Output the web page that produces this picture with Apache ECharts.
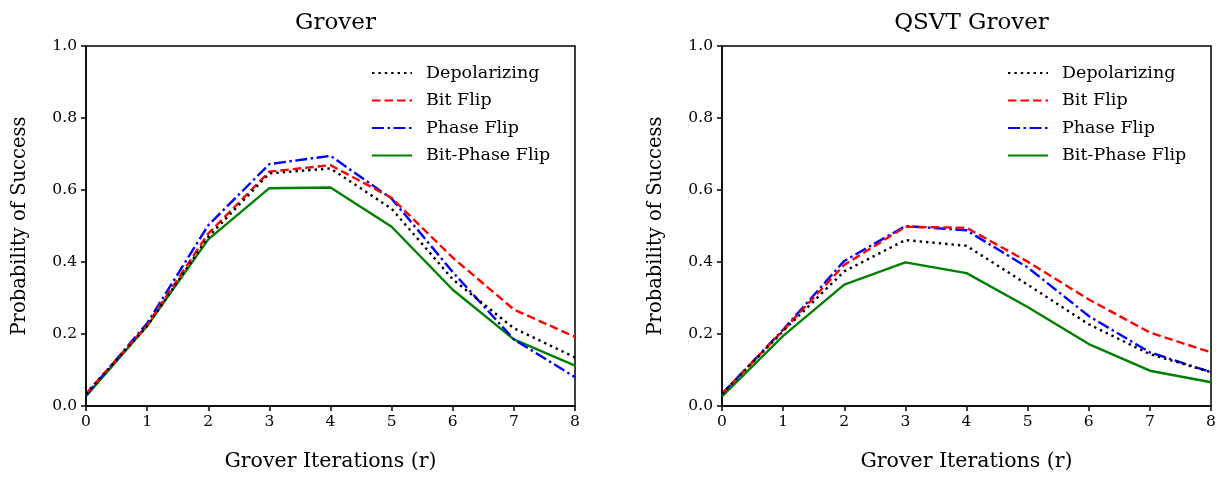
<!DOCTYPE html>
<html><head><meta charset="utf-8">
<script src="https://cdn.jsdelivr.net/npm/echarts@6/dist/echarts.min.js"></script>
<style>html,body{margin:0;padding:0;background:#fff}#c{width:1232px;height:477px}</style>
</head><body><div id="c"></div>
<script>
const iterations = [0,1,2,3,4,5,6,7,8];
const seriesNames = ['Depolarizing','Bit Flip','Phase Flip','Bit-Phase Flip'];
const titles = ['Grover','QSVT Grover'];
const xTicks = ['0','1','2','3','4','5','6','7','8'];
const yTicks = ['0.0','0.2','0.4','0.6','0.8','1.0'];

// Left: Grover
const groverDepolarizing = [0.034,0.222,0.470,0.646,0.660,0.548,0.352,0.216,0.135];
const groverBitFlip      = [0.034,0.225,0.479,0.651,0.669,0.578,0.412,0.268,0.192];
const groverPhaseFlip    = [0.030,0.230,0.502,0.672,0.695,0.576,0.372,0.185,0.080];
const groverBitPhaseFlip = [0.027,0.222,0.463,0.605,0.607,0.498,0.323,0.185,0.112];

// Right: QSVT Grover
const qsvtDepolarizing = [0.034,0.208,0.374,0.461,0.445,0.337,0.227,0.144,0.094];
const qsvtBitFlip      = [0.034,0.210,0.392,0.498,0.495,0.401,0.296,0.204,0.149];
const qsvtPhaseFlip    = [0.034,0.212,0.403,0.500,0.488,0.385,0.250,0.149,0.094];
const qsvtBitPhaseFlip = [0.027,0.195,0.337,0.399,0.369,0.275,0.172,0.098,0.066];

const styles = [
  {color:'#000000', type:[2.4,4]},
  {color:'#ff0000', type:[8.5,4]},
  {color:'#0000ff', type:[12,3.5,2.5,3.5]},
  {color:'#008000', type:'solid'}
];
const FONT = 'DejaVu Serif';
const grids = [{left:86, top:46, width:489, height:363},{left:722, top:46, width:489, height:363}];
const dataSets = [
  [groverDepolarizing,groverBitFlip,groverPhaseFlip,groverBitPhaseFlip],
  [qsvtDepolarizing,qsvtBitFlip,qsvtPhaseFlip,qsvtBitPhaseFlip]
];

const option = {
  animation:false,
  backgroundColor:'#fff',
  textStyle:{fontFamily:FONT},
  title: titles.map((t,i)=>({text:t, left:grids[i].left+grids[i].width/2, top:7, textAlign:'center',
    textStyle:{fontFamily:FONT, fontSize:23, fontWeight:'normal', color:'#000'}})),
  grid: grids.map(g=>Object.assign({show:true, borderColor:'#000', borderWidth:1.5, backgroundColor:'transparent'}, g)),
  legend: grids.map((g,i)=>({
    data: seriesNames.map(n=>n+'\u200b'.repeat(i)),
    orient:'vertical', left:g.left+280, top:59, itemWidth:40, itemHeight:14, itemGap:9.5,
    itemStyle:{opacity:0, color:'rgba(0,0,0,0)', borderWidth:0},
    textStyle:{fontFamily:FONT, fontSize:17.5, color:'#000', padding:[0,0,0,9]}
  })),
  xAxis: grids.map((g,i)=>({
    type:'value', gridIndex:i, min:0, max:8, interval:1,
    name:'Grover Iterations (r)', nameLocation:'middle', nameGap:45,
    nameTextStyle:{fontFamily:FONT, fontSize:20.5, color:'#000'},
    axisLine:{show:true, onZero:false, lineStyle:{color:'#000', width:1.5}},
    axisTick:{show:true, length:5, lineStyle:{color:'#000', width:1.5}},
    axisLabel:{fontFamily:FONT, fontSize:15.5, color:'#000', margin:8, formatter:v=>xTicks[v]},
    splitLine:{show:false}
  })),
  yAxis: grids.map((g,i)=>({
    type:'value', gridIndex:i, min:0, max:1, interval:0.2,
    name:'Probability of Success', nameLocation:'middle', nameGap:56,
    nameTextStyle:{fontFamily:FONT, fontSize:19.5, color:'#000'},
    axisLine:{show:true, onZero:false, lineStyle:{color:'#000', width:1.5}},
    axisTick:{show:true, length:5, lineStyle:{color:'#000', width:1.5}},
    axisLabel:{fontFamily:FONT, fontSize:15.5, color:'#000', margin:9, formatter:v=>yTicks[Math.round(v*5)]},
    splitLine:{show:false}
  })),
  series: []
};
dataSets.forEach((set,gi)=>{
  set.forEach((vals,si)=>{
    option.series.push({
      type:'line', name:seriesNames[si]+'\u200b'.repeat(gi), xAxisIndex:gi, yAxisIndex:gi,
      data: iterations.map((x,k)=>[x, vals[k]]),
      symbol:'none', showSymbol:false,
      lineStyle:{color:styles[si].color, width:2.4, type:styles[si].type, cap:'butt'},
      itemStyle:{color:styles[si].color},
      z: 10-si
    });
  });
});
const chart = echarts.init(document.getElementById('c'), null, {renderer:'canvas'});
chart.setOption(option);
</script></body></html>
